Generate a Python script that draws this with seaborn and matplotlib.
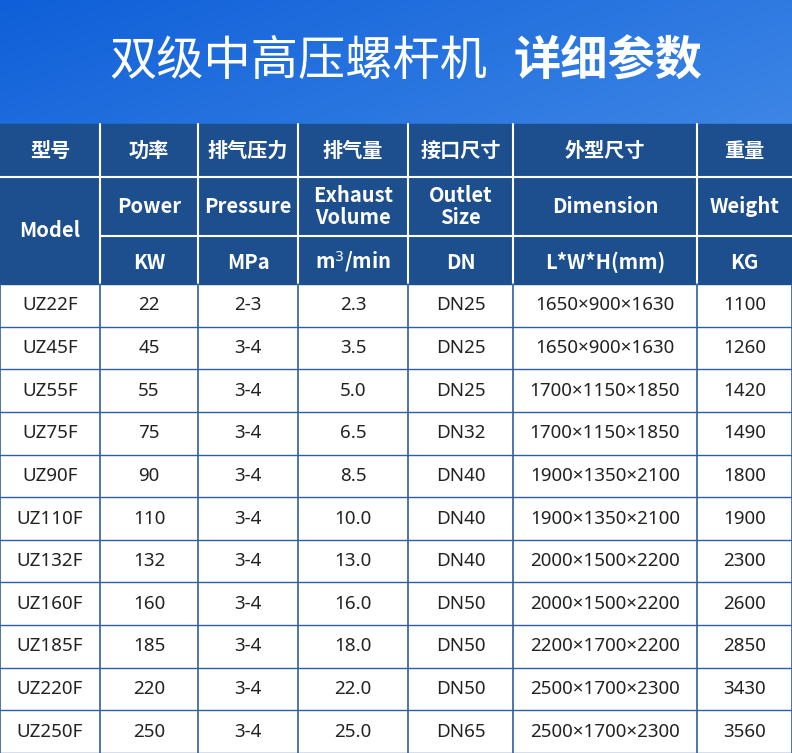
import matplotlib
matplotlib.use("Agg")
import matplotlib.pyplot as plt
import seaborn as sns
import numpy as np
from matplotlib.patches import Rectangle

sns.set_theme(style="white")
plt.rcParams['font.family'] = ['Noto Sans CJK SC', 'DejaVu Sans']

# table data
zh_heads = ["型号", "功率", "排气压力", "排气量", "接口尺寸", "外型尺寸", "重量"]
en_heads = ["Model", "Power", "Pressure", "Exhaust\nVolume", "Outlet\nSize", "Dimension", "Weight"]
units = ["", "KW", "MPa", "m$^3$/min", "DN", "L*W*H(mm)", "KG"]
models = ["UZ22F", "UZ45F", "UZ55F", "UZ75F", "UZ90F", "UZ110F", "UZ132F", "UZ160F", "UZ185F", "UZ220F", "UZ250F"]
power = ["22", "45", "55", "75", "90", "110", "132", "160", "185", "220", "250"]
pressure = ["2-3"] + ["3-4"] * 10
volume = ["2.3", "3.5", "5.0", "6.5", "8.5", "10.0", "13.0", "16.0", "18.0", "22.0", "25.0"]
outlet = ["DN25", "DN25", "DN25", "DN32", "DN40", "DN40", "DN40", "DN50", "DN50", "DN50", "DN65"]
dimension = ["1650×900×1630", "1650×900×1630", "1700×1150×1850", "1700×1150×1850",
             "1900×1350×2100", "1900×1350×2100", "2000×1500×2200", "2000×1500×2200",
             "2200×1700×2200", "2500×1700×2300", "2500×1700×2300"]
weight = ["1100", "1260", "1420", "1490", "1800", "1900", "2300", "2600", "2850", "3430", "3560"]

W, H = 792, 753
col_x = [0, 100, 198, 298, 408, 513, 697, 792]
hy = [124, 177, 236, 284]
row_h = (H - hy[-1]) / len(models)
head_c = "#1d4f8f"
line_c = "#2f5f9e"

fig = plt.figure(figsize=(W / 100, H / 100), dpi=100)
ax = fig.add_axes([0, 0, 1, 1])
ax.set_xlim(0, W)
ax.set_ylim(H, 0)
ax.axis("off")

# banner gradient
g = np.linspace(0, 1, 256)
grad = np.outer(np.linspace(0.0, 0.4, 60), np.ones(256)) * 0.5 + g[None, :] * 0.5
cmap = matplotlib.colors.LinearSegmentedColormap.from_list("b", ["#0f5fd8", "#3d86e6"])
ax.imshow(grad, extent=(0, W, hy[0], 0), cmap=cmap, aspect="auto", zorder=0)
ax.text(487, 62, "双级中高压螺杆机", color="white", fontsize=34, ha="right", va="center",
        fontweight="light")
ax.text(513, 62, "详细参数", color="white", fontsize=34, ha="left", va="center", fontweight="bold")

# header
ax.add_patch(Rectangle((0, hy[0]), W, hy[-1] - hy[0], color=head_c, zorder=1))
for i in range(7):
    cx = (col_x[i] + col_x[i + 1]) / 2
    kw = dict(color="white", fontsize=14.5, fontweight="bold", ha="center", va="center", zorder=3)
    ax.text(cx, (hy[0] + hy[1]) / 2, zh_heads[i], **kw)
    if i == 0:
        ax.text(cx, (hy[1] + hy[3]) / 2, en_heads[i], linespacing=1.05, **kw)
    else:
        ax.text(cx, (hy[1] + hy[2]) / 2, en_heads[i], linespacing=1.05, **kw)
        ax.text(cx, (hy[2] + hy[3]) / 2 + 2, units[i], **kw)
for x in col_x[1:-1]:
    ax.plot([x, x], [hy[0], hy[-1]], color="white", lw=1.5, zorder=2)
ax.plot([0, W], [hy[1], hy[1]], color="white", lw=1.5, zorder=2)
ax.plot([col_x[1], W], [hy[2], hy[2]], color="white", lw=1.5, zorder=2)

# body
cols = [models, power, pressure, volume, outlet, dimension, weight]
for r in range(len(models)):
    y0 = hy[-1] + r * row_h
    for i, col in enumerate(cols):
        cx = (col_x[i] + col_x[i + 1]) / 2
        ax.text(cx, y0 + row_h / 2, col[r], color="#222222", fontsize=13.5,
                family=["Noto Sans", "DejaVu Sans"],
                ha="center", va="center", zorder=3)
    ax.plot([0, W], [y0 + row_h, y0 + row_h], color=line_c, lw=1, zorder=2)
for x in col_x:
    ax.plot([x, x], [hy[-1], H], color=line_c, lw=1.2, zorder=2)

fig.savefig("out.png", dpi=100)
